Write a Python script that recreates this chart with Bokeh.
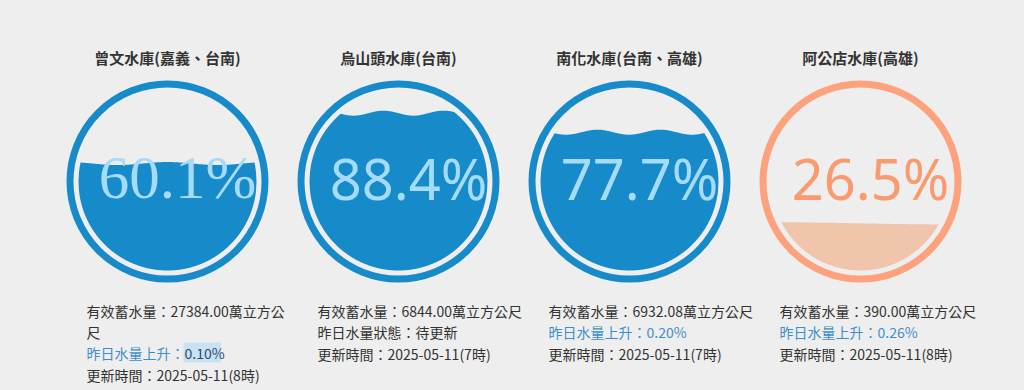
import numpy as np
from bokeh.plotting import figure
from bokeh.models import Range1d
from bokeh.core.properties import value
from bokeh.embed import file_html
from bokeh.resources import INLINE

# ---------------- data ----------------
names = ["曾文水庫(嘉義、台南)", "烏山頭水庫(台南)", "南化水庫(台南、高雄)", "阿公店水庫(高雄)"]
percents = [60.1, 88.4, 77.7, 26.5]
volumes = ["27384.00", "6844.00", "6932.08", "390.00"]
changes = ["0.10%", None, "0.20%", "0.26%"]
update_times = ["2025-05-11(8時)", "2025-05-11(7時)", "2025-05-11(7時)", "2025-05-11(8時)"]

# ---------------- style ----------------
BG = "#eeeeee"
DARK = "#333333"
LINKBLUE = "#3d8fcb"
BLUE_RING = "#178BCA"
BLUE_WAVE = "#178BCA"
BLUE_TEXT_IN = "#A4DBF8"
ORANGE_RING = "#FDA27C"
ORANGE_WAVE = "#F1C4AC"
ORANGE_TEXT = "#FA9A6E"
CJK = "Noto Sans CJK TC"

W, H = 1024, 390
p = figure(width=W, height=H, output_backend="svg", toolbar_location=None,
           x_range=Range1d(0, W), y_range=Range1d(H, 0),
           min_border=0)
p.axis.visible = False
p.grid.visible = False
p.background_fill_color = BG
p.border_fill_color = BG
p.outline_line_color = None

CX0, DX, CY = 167, 231, 181
R_OUT, RING_W, R_IN = 101, 7, 89
TEXT_DX = 10
wave_params = [(1.5, 100, 167), (2.5, 60, 383), (2.5, 63, 597), (1.2, 400, 760)]


def char_w(ch, fs=14):
    if ord(ch) > 0x2000:
        return fs
    if ch == ".":
        return fs * 0.27
    if ch in "()":
        return fs * 0.33
    return fs * 0.55


def text_w(s, fs=14):
    return sum(char_w(c, fs) for c in s)


def wrap(s, maxw=208):
    lines, cur = [], ""
    for ch in s:
        if text_w(cur + ch) > maxw:
            lines.append(cur)
            cur = ch
        else:
            cur += ch
    lines.append(cur)
    return lines


for i, name in enumerate(names):
    cx = CX0 + i * DX
    orange = percents[i] < 50
    ring = ORANGE_RING if orange else BLUE_RING
    wavec = ORANGE_WAVE if orange else BLUE_WAVE
    txtc = ORANGE_TEXT if orange else BLUE_TEXT_IN

    # title
    p.text(x=[cx], y=[57], text=[name], text_align="center", text_baseline="middle",
           text_font=value(CJK), text_font_size="15px", text_font_style="bold",
           text_color=DARK)

    # ring
    p.circle(x=[cx], y=[CY], radius=R_OUT - RING_W / 2, fill_color=None,
             line_color=ring, line_width=RING_W)

    # wave fill
    amp, period, crest = wave_params[i]
    frac = percents[i] / 100.0
    level = CY + R_IN - frac * 2 * R_IN
    xs = np.linspace(cx - R_IN, cx + R_IN, 361)
    h = np.sqrt(np.clip(R_IN ** 2 - (xs - cx) ** 2, 0, None))
    wave = level - amp * np.cos(2 * np.pi * (xs - crest) / period)
    top = np.maximum(wave, CY - h)
    bot = CY + h
    top = np.minimum(top, bot)
    px = np.concatenate([xs, xs[::-1]])
    py = np.concatenate([top, bot[::-1]])
    p.patch(px, py, fill_color=wavec, line_color=None)

    # percent text
    font = "Liberation Serif" if i == 0 else "Noto Sans"
    fsz = "61px" if i == 0 else "56px"
    p.text(x=[cx + TEXT_DX], y=[177], text=[f"{percents[i]:.1f}%"], text_align="center",
           text_baseline="middle", text_font=value(font), text_font_size=fsz,
           text_color=txtc)

    # info text
    x0 = cx - 81
    y = 310
    step = 21
    for ln in wrap(f"有效蓄水量：{volumes[i]}萬立方公尺"):
        p.text(x=[x0], y=[y], text=[ln], text_align="left", text_baseline="middle",
               text_font=value(CJK), text_font_size="14px", text_color=DARK)
        y += step
    if changes[i] is None:
        p.text(x=[x0], y=[y], text=["昨日水量狀態：待更新"], text_align="left",
               text_baseline="middle", text_font=value(CJK), text_font_size="14px",
               text_color=DARK)
    else:
        label = "昨日水量上升："
        p.text(x=[x0], y=[y], text=[label], text_align="left", text_baseline="middle",
               text_font=value(CJK), text_font_size="14px", text_color=LINKBLUE)
        vx = x0 + text_w(label)
        if i == 0:
            vw = text_w(changes[i])
            p.quad(left=[vx - 1], right=[vx + vw + 2], top=[y - 10], bottom=[y + 10],
                   fill_color="#c9e1f5", line_color=None)
            vcol = "#2a4d6e"
        else:
            vcol = LINKBLUE
        p.text(x=[vx], y=[y], text=[changes[i]], text_align="left", text_baseline="middle",
               text_font=value(CJK), text_font_size="14px", text_color=vcol)
    y += step + 1
    p.text(x=[x0], y=[y], text=[f"更新時間：{update_times[i]}"], text_align="left",
           text_baseline="middle", text_font=value(CJK), text_font_size="14px",
           text_color=DARK)

html = file_html(p, INLINE)
html = html.replace("<head>", "<head><style>html,body{background:#eeeeee;}</style>", 1)
open("out.html", "w").write(html)
